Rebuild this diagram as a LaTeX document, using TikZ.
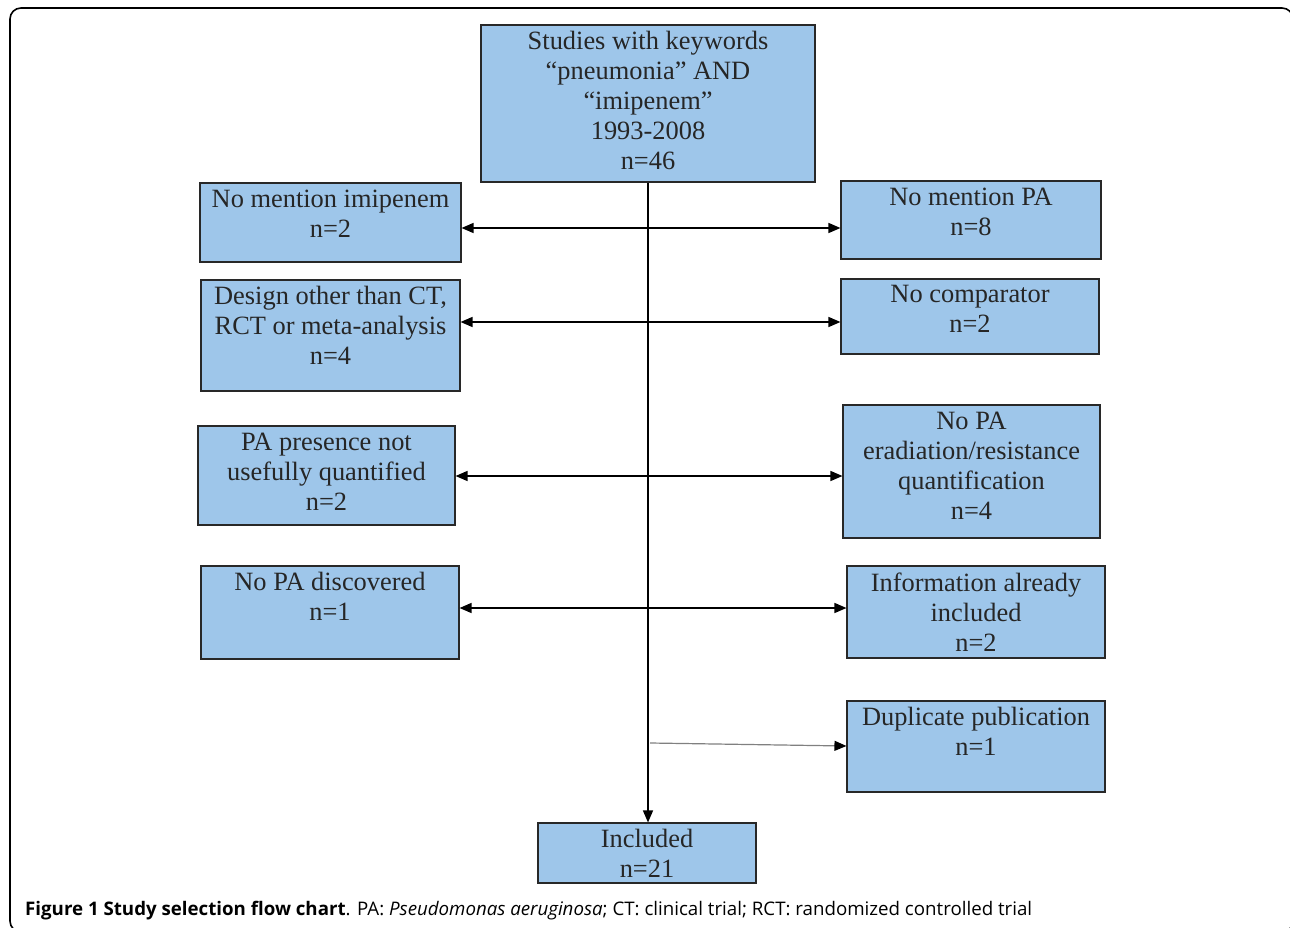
\documentclass[tikz,border=0pt]{standalone}
\usepackage{fontspec}
\setmainfont{Liberation Serif}
\newfontfamily\capfont{Open Sans}
\usetikzlibrary{arrows.meta}
\definecolor{boxblue}{RGB}{158,198,234}
\definecolor{edgegray}{RGB}{40,40,40}
\tikzset{
  box/.style={draw=edgegray, line width=1.1pt, fill=boxblue, inner sep=0pt},
  txt/.style={anchor=north, align=center, inner sep=0pt, font=\fontsize{26.4}{30}\selectfont, text=black!85},
  arr/.style={line width=1.4pt, -{Triangle[length=12pt,width=10pt]}},
  biarr/.style={line width=1.4pt, {Triangle[length=12pt,width=10pt]}-{Triangle[length=12pt,width=10pt]}},
}
\begin{document}
\begin{tikzpicture}[x=1pt,y=-1pt]
\useasboundingbox (0,0) rectangle (1290,928);
\draw[line width=1.6pt, rounded corners=11pt] (10,8) rectangle (1293,932);
% boxes: center and size
\node[box, minimum width=334pt, minimum height=157pt] (top) at (648,103.5) {};
\node[txt] at ([yshift=-7pt]top.north) {Studies with keywords\\``pneumonia'' AND\\``imipenem''\\ 1993-2008\\n=46};
\node[box, minimum width=261pt, minimum height=79pt] (l1) at (330.5,222.5) {};
\node[txt] at ([yshift=-7pt]l1.north) {No mention imipenem\\n=2};
\node[box, minimum width=260pt, minimum height=78pt] (r1) at (971,220) {};
\node[txt] at ([yshift=-7pt]r1.north) {No mention PA\\n=8};
\node[box, minimum width=259pt, minimum height=111pt] (l2) at (330.5,335.5) {};
\node[txt] at ([yshift=-7pt]l2.north) {Design other than CT,\\RCT or meta-analysis\\n=4};
\node[box, minimum width=258pt, minimum height=75pt] (r2) at (970,316.5) {};
\node[txt] at ([yshift=-7pt]r2.north) {No comparator\\n=2};
\node[box, minimum width=257pt, minimum height=99pt] (l3) at (326.5,475.5) {};
\node[txt] at ([yshift=-7pt]l3.north) {PA presence not\\usefully quantified\\n=2};
\node[box, minimum width=257pt, minimum height=133pt] (r3) at (971.5,471.5) {};
\node[txt] at ([yshift=-7pt]r3.north) {No PA\\eradiation/resistance\\quantification\\n=4};
\node[box, minimum width=258pt, minimum height=93pt] (l4) at (330,612.5) {};
\node[txt] at ([yshift=-7pt]l4.north) {No PA discovered\\n=1};
\node[box, minimum width=258pt, minimum height=92pt] (r4) at (976,612) {};
\node[txt] at ([yshift=-7pt]r4.north) {Information already\\included\\n=2};
\node[box, minimum width=258pt, minimum height=91pt] (r5) at (976,746.5) {};
\node[txt] at ([yshift=-7pt]r5.north) {Duplicate publication\\n=1};
\node[box, minimum width=218pt, minimum height=60pt] (inc) at (647,853) {};
\node[txt] at ([yshift=-7pt]inc.north) {Included\\n=21};
% connectors
\draw[arr] (top.south -| 648,0) -- (inc.north -| 648,0);
\draw[biarr] (l1.east |- 0,228) -- (r1.west |- 0,228);
\draw[biarr] (l2.east |- 0,322) -- (r2.west |- 0,322);
\draw[biarr] (l3.east |- 0,476) -- (r3.west |- 0,476);
\draw[biarr] (l4.east |- 0,608) -- (r4.west |- 0,608);
\coordinate (dup) at (650,743);
\draw[line width=1.2pt, draw=black!50, -{Triangle[length=12pt,width=10pt,color=black]}] (dup) -- (r5.west |- 0,746);
% caption
\node[anchor=base west, inner sep=0pt, font=\capfont\fontsize{18.7}{22}\selectfont] (cap) at (25,915) {\textbf{Figure 1 Study selection flow chart}. PA: \textit{Pseudomonas aeruginosa}; CT: clinical trial; RCT: randomized controlled trial};
\end{tikzpicture}
\end{document}
